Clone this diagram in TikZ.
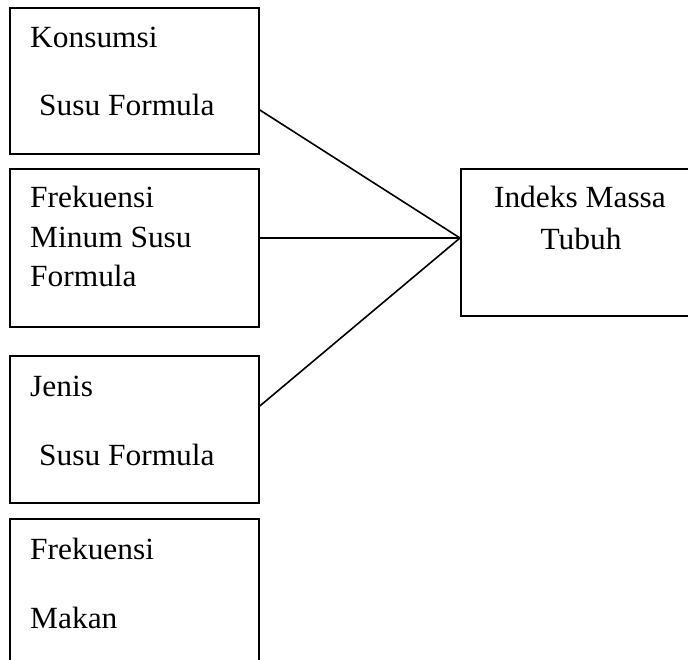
\documentclass[tikz,border=0pt]{standalone}
\usepackage{fontspec}
\setmainfont{Liberation Serif}[FakeStretch=1.02]
\begin{document}
\begin{tikzpicture}[x=1pt,y=-1pt,
  box/.style={draw=black, line width=1.8pt},
  lbl/.style={anchor=base west, inner sep=0pt, font=\fontsize{30.8}{40}\selectfont},
  clbl/.style={anchor=base, inner sep=0pt, font=\fontsize{30.8}{40}\selectfont},
  conn/.style={draw=black, line width=1.6pt}]
\useasboundingbox (0,0) rectangle (688,660);
\clip (0,0) rectangle (688,660);
% boxes
\node[box, minimum width=249pt, minimum height=146pt, inner sep=0pt, anchor=north west] (b1) at (9,7) {};
\node[box, minimum width=249pt, minimum height=158pt, inner sep=0pt, anchor=north west] (b2) at (9,168) {};
\node[box, minimum width=249pt, minimum height=147pt, inner sep=0pt, anchor=north west] (b3) at (9,355) {};
\node[box, minimum width=249pt, minimum height=190pt, inner sep=0pt, anchor=north west] (b4) at (9,518) {};
\node[box, minimum width=240pt, minimum height=147pt, inner sep=0pt, anchor=north west] (b5) at (460,168) {};
% texts
\node[lbl] (t1a) at (30,48) {Konsumsi};
\node[lbl] (t1b) at (39,116) {Susu Formula};
\node[lbl] (t2a) at (30,208) {Frekuensi};
\node[lbl] (t2b) at (30,248) {Minum Susu};
\node[lbl] (t2c) at (30,287) {Formula};
\node[lbl] (t3a) at (30,396) {Jenis};
\node[lbl] (t3b) at (39,465) {Susu Formula};
\node[lbl] (t4a) at (30,559) {Frekuensi};
\node[lbl] (t4b) at (30,628) {Makan};
\node[clbl] (t5a) at (580,208) {Indeks Massa};
\node[clbl] (t5b) at (581,250) {Tubuh};
% connector end points
\coordinate (m) at (b5.west |- 0,238);
\coordinate (s1) at (b1.east |- 0,110);
\coordinate (s2) at (b2.east |- 0,238);
\coordinate (s3) at (b3.east |- 0,406);
\draw[conn] (s1) -- (m);
\draw[conn] (s2) -- (m);
\draw[conn] (s3) -- (m);
\end{tikzpicture}
\end{document}
